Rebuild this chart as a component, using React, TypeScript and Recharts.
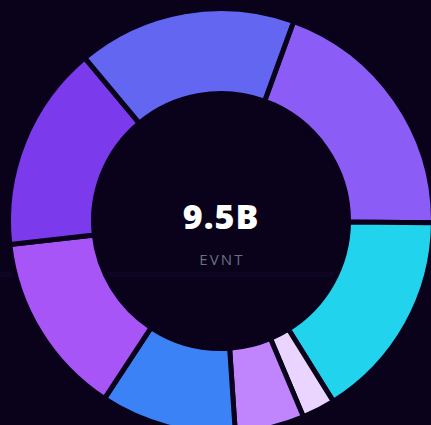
import { Cell, Label, Pie, PieChart } from "recharts"

const names = ["Alpha", "Beta", "Gamma", "Delta", "Epsilon", "Zeta", "Eta", "Theta"]
const values = [1.86, 1.52, 0.24, 0.5, 0.98, 1.33, 1.49, 1.58]
const colors = ["#8b5cf6", "#22d3ee", "#e9d5ff", "#c084fc", "#3b82f6", "#a855f7", "#7c3aed", "#6366f1"]
const totalLabel = "9.5B"
const unitLabel = "EVNT"

const data = names.map((name, i) => ({ name, value: values[i] }))

const bg = "#09021a"

function CenterText(props: any) {
  const vb = props.viewBox || {}
  const cx = vb.cx ?? 221
  const cy = vb.cy ?? 221
  return (
    <g>
      <text
        x={cx}
        y={cy + 8}
        textAnchor="middle"
        fill="#ffffff"
        fontFamily="'Open Sans', sans-serif"
        fontWeight={800}
        fontSize={34}
        letterSpacing={1}
      >
        {totalLabel}
      </text>
      <text
        x={cx + 1}
        y={cy + 44}
        textAnchor="middle"
        fill="#6b7080"
        fontFamily="'Open Sans', sans-serif"
        fontSize={15}
        letterSpacing={2.2}
      >
        {unitLabel}
      </text>
    </g>
  )
}

export default function App() {
  return (
    <div style={{ position: "fixed", left: 0, top: 0, width: 431, height: 425, background: bg, overflow: "hidden" }}>
      <div style={{ position: "absolute", left: 0, top: 272, width: 431, height: 5, background: "#0e0524" }} />
      <div style={{ position: "absolute", left: 0, top: 0 }}>
        <PieChart width={431} height={425} margin={{ top: 0, right: 0, bottom: 0, left: 0 }}>
          <Pie
            data={data}
            dataKey="value"
            nameKey="name"
            cx={221}
            cy={221}
            innerRadius={127.5}
            outerRadius={212.5}
            startAngle={70}
            endAngle={-290}
            stroke={bg}
            strokeWidth={5}
            isAnimationActive={false}
          >
            {data.map((d, i) => (
              <Cell key={d.name} fill={colors[i]} />
            ))}
            <Label position="center" content={CenterText} />
          </Pie>
        </PieChart>
      </div>
    </div>
  )
}
